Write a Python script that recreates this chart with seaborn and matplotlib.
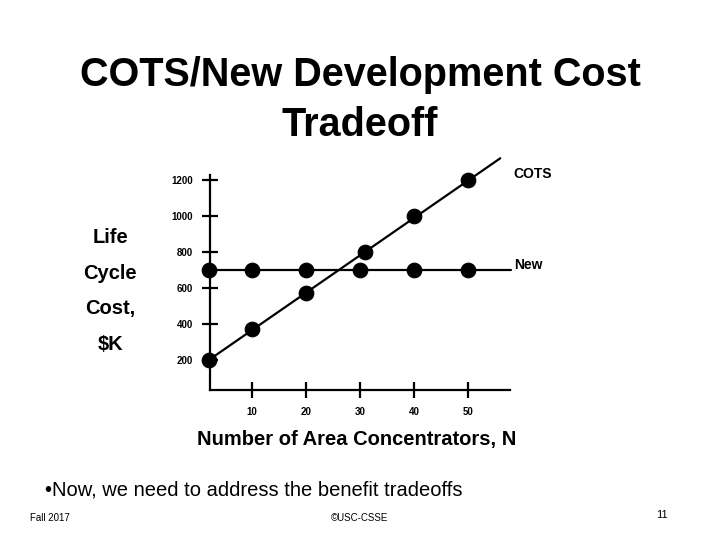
import numpy as np
import pandas as pd
import matplotlib
matplotlib.use("Agg")
import matplotlib.pyplot as plt
import seaborn as sns

# data
new_x = [2, 10, 20, 30, 40, 50]
new_y = [700, 700, 700, 700, 700, 700]
cots_x = [2, 10, 20, 31, 40, 50]
cots_y = [200, 370, 570, 800, 1000, 1200]
# straight trend lines drawn through the points
cots_line_x = [2, 56]
cots_line_y = [200, 1320]
new_line_x = [2, 58]
new_line_y = [700, 700]
x_ticks = [10, 20, 30, 40, 50]
y_ticks = [200, 400, 600, 800, 1000, 1200]

sns.set_style("white")
plt.rcParams['font.family'] = ['Liberation Sans', 'DejaVu Sans']
plt.rcParams['text.color'] = 'black'

fig = plt.figure(figsize=(7.2, 5.4), dpi=100)
ax = fig.add_axes([210 / 720, 1 - 390 / 540, 300 / 720, 215 / 540])

pts = pd.DataFrame({'x': cots_x + new_x, 'y': cots_y + new_y,
                    'series': ['COTS'] * 6 + ['New'] * 6})
lines = pd.DataFrame({'x': cots_line_x + new_line_x, 'y': cots_line_y + new_line_y,
                      'series': ['COTS'] * 2 + ['New'] * 2})

sns.lineplot(data=lines, x='x', y='y', units='series', estimator=None,
             color='black', linewidth=1.6, ax=ax, clip_on=False)
sns.scatterplot(data=pts, x='x', y='y', color='black', s=110,
                edgecolor='black', ax=ax, clip_on=False, zorder=3)

ax.set_xlim(2.2, 57.8)
ax.set_ylim(33, 1227)
ax.set_xticks(x_ticks)
ax.set_yticks(y_ticks)
ax.set_xlabel('')
ax.set_ylabel('')
sns.despine(ax=ax)
for s in ['left', 'bottom']:
    ax.spines[s].set_linewidth(1.6)
    ax.spines[s].set_color('black')
ax.tick_params(direction='inout', length=11, width=1.6, colors='black',
               labelsize=7, pad=7, left=True, bottom=True)
for lab in ax.get_xticklabels() + ax.get_yticklabels():
    lab.set_fontweight('bold')

ax.text(58.5, 1235, 'COTS', fontsize=10, fontweight='bold', ha='left', va='center', clip_on=False)
ax.text(58.5, 725, 'New', fontsize=10, fontweight='bold', ha='left', va='center', clip_on=False)

fig.text(0.5, 1 - 100 / 540, 'COTS/New Development Cost\nTradeoff', ha='center', va='center',
         fontsize=28.5, fontweight='bold', linespacing=1.4)
fig.text(110 / 720, 1 - 291 / 540, 'Life\n\nCycle\n\nCost,\n\n$K', ha='center', va='center',
         fontsize=14.5, fontweight='bold', linespacing=0.92)
fig.text(357 / 720, 1 - 440 / 540, 'Number of Area Concentrators, N', ha='center', va='center',
         fontsize=14.5, fontweight='bold')
fig.text(45 / 720, 1 - 490 / 540, '\u2022Now, we need to address the benefit tradeoffs', ha='left',
         va='center', fontsize=14.5)
fig.text(30 / 720, 1 - 518 / 540, 'Fall 2017', ha='left', va='center', fontsize=7)
fig.text(360 / 720, 1 - 518 / 540, '\u00a9USC-CSSE', ha='center', va='center', fontsize=7)
fig.text(662 / 720, 1 - 515 / 540, '11', ha='center', va='center', fontsize=8)

fig.savefig('out.png', dpi=100)
